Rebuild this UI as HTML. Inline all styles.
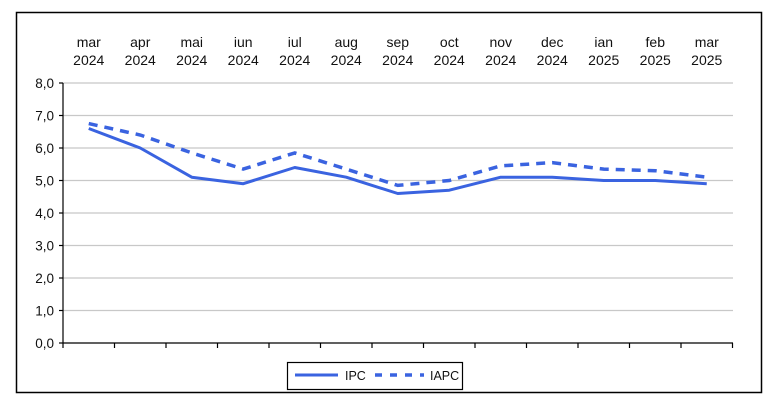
<!DOCTYPE html>
<html><head><meta charset="utf-8"><style>body{margin:0;background:#fff}svg{display:block;font-family:"Liberation Sans",Arial,sans-serif}</style></head><body>
<svg width="775" height="400" viewBox="0 0 775 400">
<rect x="16.5" y="12.5" width="745" height="380" fill="#fff" stroke="#000" stroke-width="1.5"/>
<g stroke="#c8c8c8" stroke-width="1.2">
<line x1="63" y1="83" x2="733" y2="83"/><line x1="63" y1="115.5" x2="733" y2="115.5"/><line x1="63" y1="148" x2="733" y2="148"/><line x1="63" y1="180.5" x2="733" y2="180.5"/><line x1="63" y1="213" x2="733" y2="213"/><line x1="63" y1="245.5" x2="733" y2="245.5"/><line x1="63" y1="278" x2="733" y2="278"/><line x1="63" y1="310.5" x2="733" y2="310.5"/>
</g>
<g stroke="#000" stroke-width="1.2">
<line x1="63" y1="83" x2="63" y2="343"/><line x1="63" y1="343" x2="733" y2="343"/>
<line x1="59" y1="83" x2="63" y2="83"/><line x1="59" y1="115.5" x2="63" y2="115.5"/><line x1="59" y1="148" x2="63" y2="148"/><line x1="59" y1="180.5" x2="63" y2="180.5"/><line x1="59" y1="213" x2="63" y2="213"/><line x1="59" y1="245.5" x2="63" y2="245.5"/><line x1="59" y1="278" x2="63" y2="278"/><line x1="59" y1="310.5" x2="63" y2="310.5"/><line x1="59" y1="343" x2="63" y2="343"/>
<line x1="63" y1="343" x2="63" y2="348"/><line x1="114.5" y1="343" x2="114.5" y2="348"/><line x1="166" y1="343" x2="166" y2="348"/><line x1="217.5" y1="343" x2="217.5" y2="348"/><line x1="269" y1="343" x2="269" y2="348"/><line x1="320.5" y1="343" x2="320.5" y2="348"/><line x1="372" y1="343" x2="372" y2="348"/><line x1="423.5" y1="343" x2="423.5" y2="348"/><line x1="475" y1="343" x2="475" y2="348"/><line x1="526.5" y1="343" x2="526.5" y2="348"/><line x1="578" y1="343" x2="578" y2="348"/><line x1="629.5" y1="343" x2="629.5" y2="348"/><line x1="681" y1="343" x2="681" y2="348"/><line x1="732.5" y1="343" x2="732.5" y2="348"/>
</g>
<g font-size="13.5" fill="#111" text-anchor="end">
<text x="54" y="88">8,0</text><text x="54" y="120.5">7,0</text><text x="54" y="153">6,0</text><text x="54" y="185.5">5,0</text><text x="54" y="218">4,0</text><text x="54" y="250.5">3,0</text><text x="54" y="283">2,0</text><text x="54" y="315.5">1,0</text><text x="54" y="348">0,0</text>
</g>
<g font-size="14" fill="#111" text-anchor="middle">
<text x="88.75" y="47">mar</text><text x="88.75" y="65">2024</text>
<text x="140.25" y="47">apr</text><text x="140.25" y="65">2024</text>
<text x="191.75" y="47">mai</text><text x="191.75" y="65">2024</text>
<text x="243.25" y="47">iun</text><text x="243.25" y="65">2024</text>
<text x="294.75" y="47">iul</text><text x="294.75" y="65">2024</text>
<text x="346.25" y="47">aug</text><text x="346.25" y="65">2024</text>
<text x="397.75" y="47">sep</text><text x="397.75" y="65">2024</text>
<text x="449.25" y="47">oct</text><text x="449.25" y="65">2024</text>
<text x="500.75" y="47">nov</text><text x="500.75" y="65">2024</text>
<text x="552.25" y="47">dec</text><text x="552.25" y="65">2024</text>
<text x="603.75" y="47">ian</text><text x="603.75" y="65">2025</text>
<text x="655.25" y="47">feb</text><text x="655.25" y="65">2025</text>
<text x="706.75" y="47">mar</text><text x="706.75" y="65">2025</text>
</g>
<polyline fill="none" stroke="#3a63e0" stroke-width="3" stroke-linejoin="round" points="88.75,128.5 140.25,148 191.75,177.2 243.25,183.7 294.75,167.5 346.25,177.2 397.75,193.5 449.25,190.2 500.75,177.2 552.25,177.2 603.75,180.5 655.25,180.5 706.75,183.7"/>
<polyline fill="none" stroke="#3a63e0" stroke-width="3.5" stroke-dasharray="9,7" points="88.75,123.6 140.25,135 191.75,152.9 243.25,169.1 294.75,152.9 346.25,169.1 397.75,185.4 449.25,180.5 500.75,165.9 552.25,162.6 603.75,169.1 655.25,170.7 706.75,177.2"/>
<rect x="287.5" y="362.5" width="175" height="27" fill="#fff" stroke="#000" stroke-width="1.2"/>
<line x1="295" y1="375" x2="338" y2="375" stroke="#3a63e0" stroke-width="3"/>
<text x="345" y="380" font-size="12.5" fill="#111">IPC</text>
<line x1="375" y1="375" x2="424" y2="375" stroke="#3a63e0" stroke-width="3.5" stroke-dasharray="7,8"/>
<text x="430" y="380" font-size="12.5" fill="#111">IAPC</text>
</svg>
</body></html>
